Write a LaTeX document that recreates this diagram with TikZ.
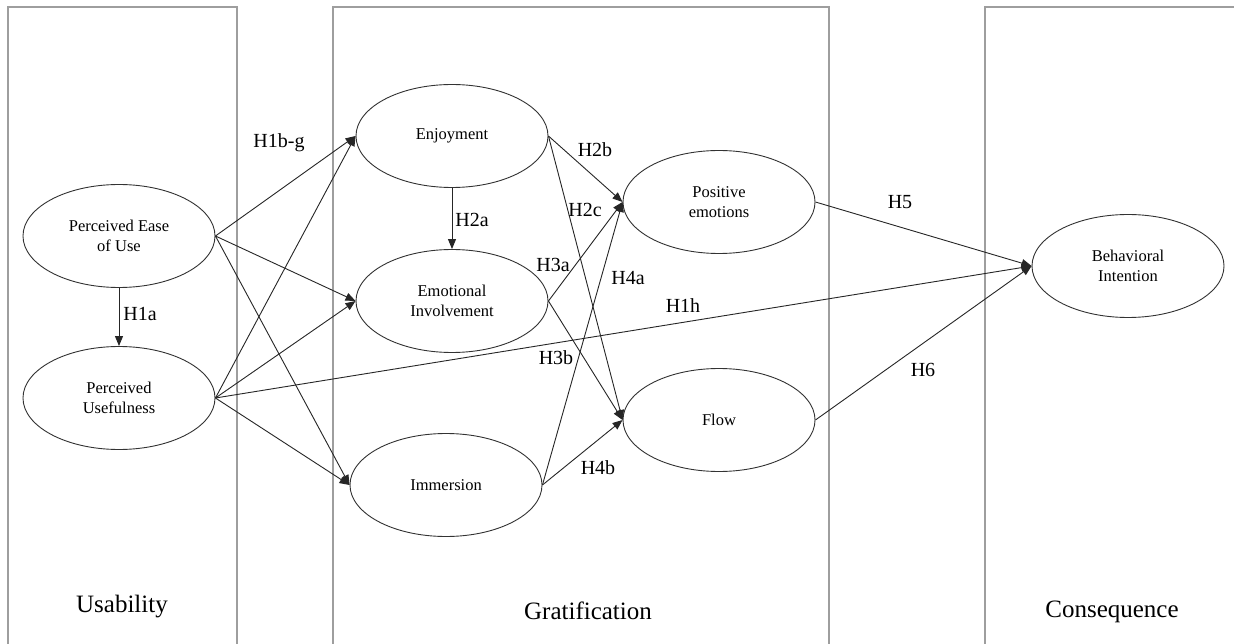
\documentclass[tikz,border=0pt]{standalone}
\usepackage{fontspec}
\setmainfont{Liberation Serif}
\usetikzlibrary{shapes.geometric,arrows.meta}
\begin{document}
\begin{tikzpicture}[x=1pt,y=-1pt,
  boxline/.style={draw=black!38, line width=1.1pt},
  construct/.style={ellipse, draw=black!80, line width=0.9pt, minimum width=192pt, minimum height=103pt, inner sep=0pt, align=center, font=\fontsize{16.5}{20}\selectfont},
  arr/.style={draw=black!85, line width=0.9pt, -{Triangle[length=10pt,width=8pt]}},
  hyp/.style={font=\fontsize{20}{24}\selectfont, inner sep=0pt},
  cat/.style={font=\fontsize{25}{30}\selectfont, inner sep=0pt}]
\useasboundingbox (0,0) rectangle (1234,644);
\fill[white] (0,0) rectangle (1234,644);
% column boxes
\draw[boxline] (8,644) -- (8,7) -- (237,7) -- (237,644);
\draw[boxline] (333,644) -- (333,7) -- (829,7) -- (829,644);
\draw[boxline] (985,644) -- (985,7) -- (1236,7);
% constructs
\node[construct] (peou) at (119,236) {Perceived Ease\\of Use};
\node[construct] (pu) at (119,398) {Perceived\\Usefulness};
\node[construct] (enj) at (452,136) {Enjoyment};
\node[construct] (ei) at (452,301) {Emotional\\Involvement};
\node[construct] (imm) at (446,485) {Immersion};
\node[construct] (pe) at (719,202) {Positive\\emotions};
\node[construct] (flow) at (719,420) {Flow};
\node[construct] (bi) at (1128,266) {Behavioral\\Intention};
% connectors
\draw[arr] (peou.south) -- (pu.north);
\draw[arr] (peou.east) -- (enj.west);
\draw[arr] (peou.east) -- (ei.west);
\draw[arr] (peou.east) -- (imm.west);
\draw[arr] (pu.east) -- (enj.west);
\draw[arr] (pu.east) -- (ei.west);
\draw[arr] (pu.east) -- (imm.west);
\draw[arr] (pu.east) -- (bi.west);
\draw[arr] (enj.south) -- (ei.north);
\draw[arr] (enj.east) -- (pe.west);
\draw[arr] (enj.east) -- (flow.west);
\draw[arr] (ei.east) -- (pe.west);
\draw[arr] (ei.east) -- (flow.west);
\draw[arr] (imm.east) -- (pe.west);
\draw[arr] (imm.east) -- (flow.west);
\draw[arr] (pe.east) -- (bi.west);
\draw[arr] (flow.east) -- (bi.west);
% hypothesis labels
\node[hyp] (l1bg) at (279,143) {H1b-g};
\node[hyp] (l1a) at (140,314) {H1a};
\node[hyp] (l2a) at (472,220) {H2a};
\node[hyp] (l2b) at (595,150) {H2b};
\node[hyp] (l2c) at (585,210) {H2c};
\node[hyp] (l3a) at (553,265) {H3a};
\node[hyp] (l3b) at (556,358) {H3b};
\node[hyp] (l4a) at (628,278) {H4a};
\node[hyp] (l1h) at (683,306) {H1h};
\node[hyp] (l4b) at (598,468) {H4b};
\node[hyp] (l5) at (900,202) {H5};
\node[hyp] (l6) at (923,370) {H6};
% category labels
\node[cat] (usab) at (122,607) {Usability};
\node[cat] (grat) at (588,611) {Gratification};
\node[cat] (cons) at (1112,612) {Consequence};
\end{tikzpicture}
\end{document}
